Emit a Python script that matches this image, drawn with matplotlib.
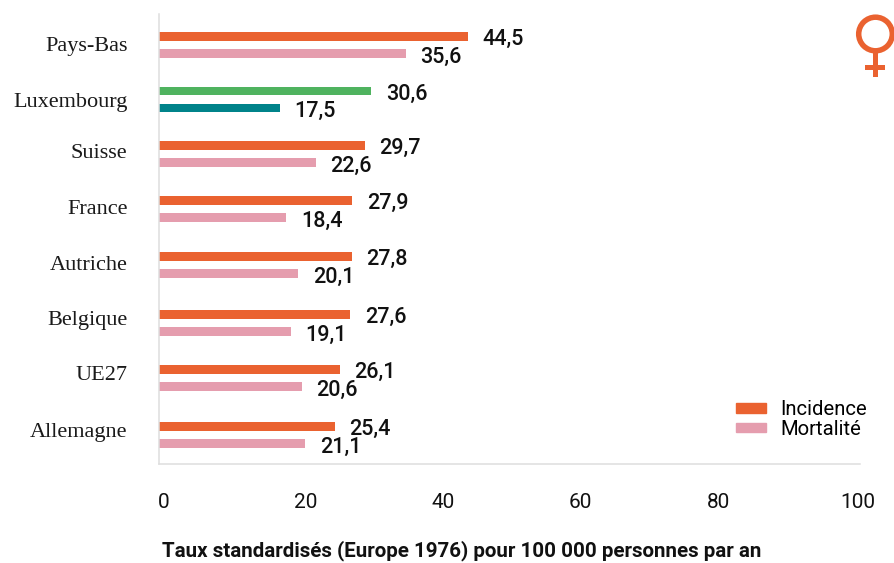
import matplotlib
matplotlib.use("Agg")
import matplotlib.pyplot as plt
from matplotlib.patches import Circle, Patch, Rectangle
from matplotlib.transforms import Affine2D

W, H = 895, 563
PX = 72 / 100  # points per pixel at 100 dpi

countries = ["Pays-Bas", "Luxembourg", "Suisse", "France", "Autriche", "Belgique", "UE27", "Allemagne"]
incidence = [44.5, 30.6, 29.7, 27.9, 27.8, 27.6, 26.1, 25.4]
mortalite = [35.6, 17.5, 22.6, 18.4, 20.1, 19.1, 20.6, 21.1]
ticks = [0, 20, 40, 60, 80, 100]
axis_title = "Taux standardisés (Europe 1976) pour 100 000 personnes par an"

# Row centres, in pixels from the top of the figure
rows = [45, 99.5, 154, 209, 265, 323, 378, 435]
label_rows = [47, 102, 153, 209, 265, 321, 376, 432]
tick_nudge = [5, 8, 7, 5, 3.5, 4.5]

ORANGE, PINK = "#EA6230", "#E59DAE"
GREEN, TEAL = "#4FB35F", "#00838A"
GREY = "#DEDEDE"
SANS = "Roboto"
SERIF = "Liberation Serif"

fig = plt.figure(figsize=(W / 100, H / 100), dpi=100)
left, right, top, bottom = 158.5, 860, 14, 463.5
ax = fig.add_axes([left / W, 1 - bottom / H, (right - left) / W, (bottom - top) / H])
ax.set_xlim(0, (right - left) / 6.95)
ax.set_ylim(bottom, top)

for name, inc, mort, row, lab_y in zip(countries, incidence, mortalite, rows, label_rows):
    is_lux = name == "Luxembourg"
    y_inc, y_mort = row - 8.7, row + 8.7
    ax.barh(y_inc, inc, height=8.5, color=GREEN if is_lux else ORANGE)
    ax.barh(y_mort, mort, height=8.5, color=TEAL if is_lux else PINK)
    for val, y in ((inc, y_inc), (mort, y_mort)):
        ax.annotate(f"{val:.1f}".replace(".", ","), (val, y), xytext=(14.5 * PX, -3.5 * PX),
                    textcoords="offset points", ha="left", va="center",
                    fontsize=15.5, family=SANS, fontweight="medium", color="#111111",
                    annotation_clip=False)
    ax.text(-31 / 6.95, lab_y, name, ha="right", va="center",
            fontsize=16, family=SERIF, color="#1A1A1A")

for side in ("top", "right"):
    ax.spines[side].set_visible(False)
for side in ("left", "bottom"):
    ax.spines[side].set_color(GREY)
    ax.spines[side].set_linewidth(1.1)
ax.set_yticks([])
ax.set_xticks([])

for t, nudge in zip(ticks, tick_nudge):
    ax.annotate(str(t), (t, bottom), xytext=(nudge * PX, -39 * PX), textcoords="offset points",
                ha="center", va="center", fontsize=15, family=SANS, color="#111111",
                annotation_clip=False)

fig.text(461.5 / W, 1 - 551 / H, axis_title, ha="center", va="center",
         fontsize=14.8, family=SANS, fontweight="bold", color="#111111")

handles = [Patch(color=ORANGE, label="Incidence"), Patch(color=PINK, label="Mortalité")]
ax.legend(handles=handles, loc="center left", bbox_to_anchor=(736 / W, 1 - 419.5 / H),
          bbox_transform=fig.transFigure, frameon=False, prop={"family": SANS, "size": 14.6},
          handlelength=30 * PX / 14.6, handleheight=7 * PX / 14.6, handletextpad=14.5 * PX / 14.6,
          labelspacing=0.02, borderpad=0, borderaxespad=0)

# Venus symbol in the top right corner, placed in pixel coordinates
px = Affine2D().scale(1 / W, -1 / H).translate(0, 1) + fig.transFigure
fig.add_artist(Circle((875.5, 34), 16.8, fill=False, edgecolor=ORANGE, linewidth=5.5 * PX, transform=px))
fig.add_artist(Rectangle((873, 52), 5, 25, facecolor=ORANGE, edgecolor="none", transform=px))
fig.add_artist(Rectangle((865.5, 64.5), 20, 5.5, facecolor=ORANGE, edgecolor="none", transform=px))

fig.savefig("out.png", dpi=100)
